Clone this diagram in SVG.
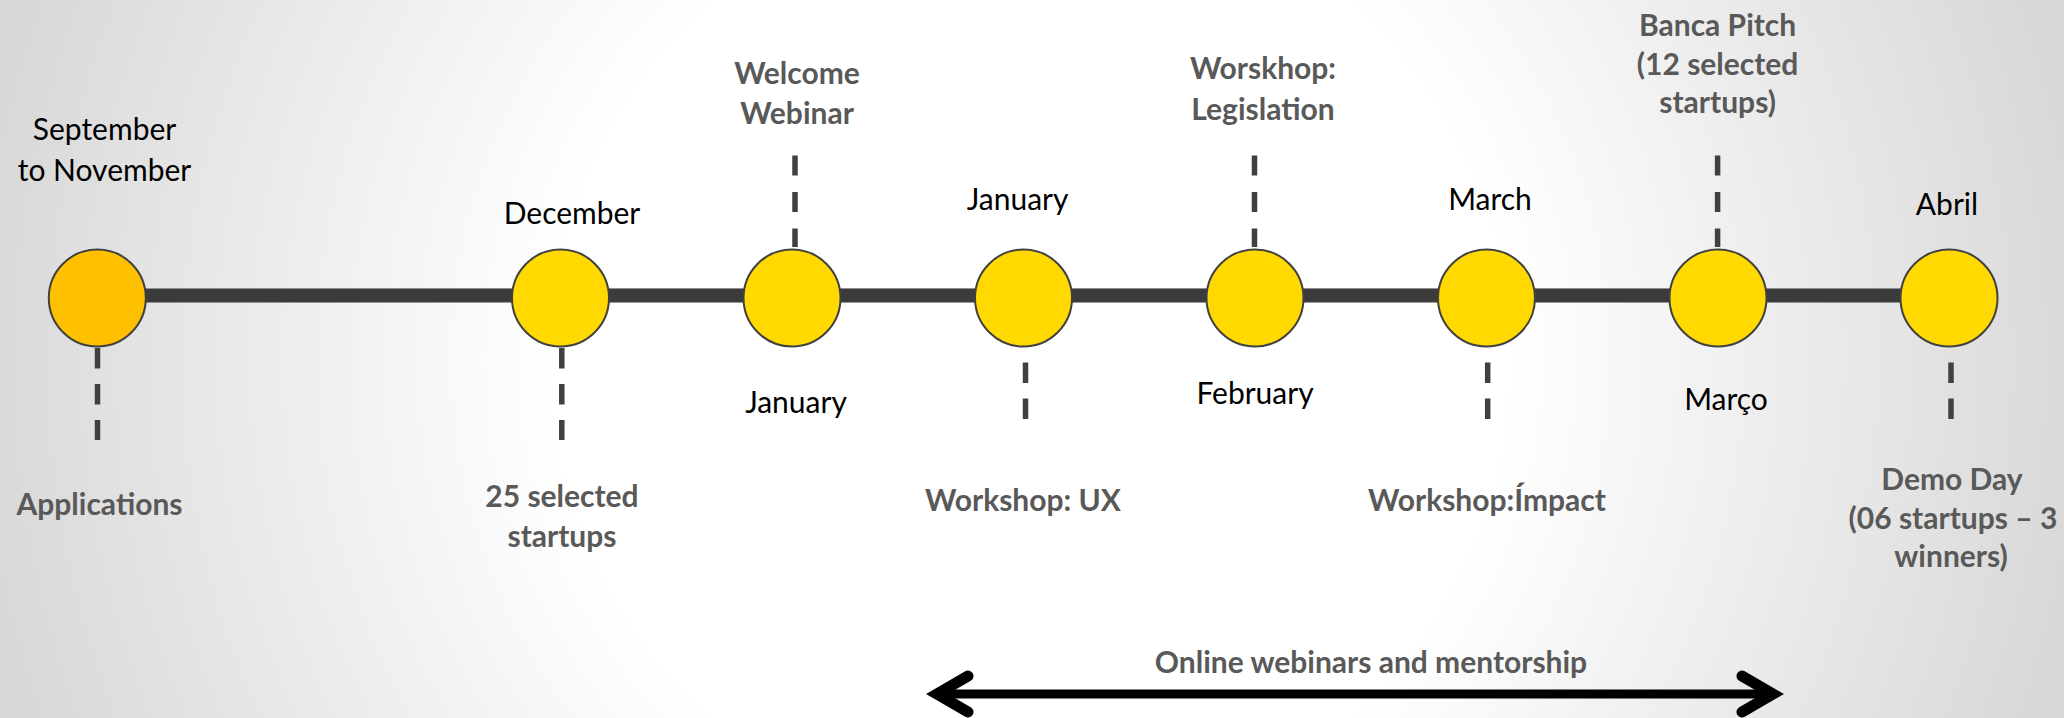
<svg xmlns="http://www.w3.org/2000/svg" width="2064" height="718" viewBox="0 0 2064 718">
  <defs>
    <radialGradient id="bg" gradientUnits="userSpaceOnUse" cx="1030" cy="360" r="1060" fx="1030" fy="360">
      <stop offset="0" stop-color="#ffffff"/>
      <stop offset="0.45" stop-color="#ffffff"/>
      <stop offset="1" stop-color="#d8d8d8"/>
    </radialGradient>
  </defs>
  <style>
    .dot { fill: #FFD900; stroke: #404040; stroke-width: 2; }
    .dot0 { fill: #FFC000; stroke: #404040; stroke-width: 2; }
    .dash { stroke: #404040; stroke-width: 5.5; fill: none; }
    .up { stroke-dasharray: 20 16.5; }
    .down { stroke-dasharray: 20.5 15.5; }
    .month { font-family: Lato, "Liberation Sans", sans-serif; font-size: 30px; fill: #000000; text-anchor: middle; }
    .event { font-family: Lato, "Liberation Sans", sans-serif; font-size: 30px; font-weight: bold; fill: #595959; text-anchor: middle; }
    .arrow { stroke: #000000; fill: none; stroke-width: 11; stroke-linecap: round; stroke-linejoin: miter; stroke-miterlimit: 10; }
  </style>

  <rect x="0" y="0" width="2064" height="718" fill="url(#bg)"/>

  <g id="connectors">
    <rect x="97" y="288.5" width="1852" height="14" fill="#3b3b3b"/>
    <line x1="97" y1="288.5" x2="1949" y2="288.5" stroke="#8f8f8f" stroke-width="1"/>
    <line class="dash down" x1="97.5" y1="348" x2="97.5" y2="440"/>
    <line class="dash down" x1="561.8" y1="348" x2="561.8" y2="440"/>
    <line class="dash up" x1="795" y1="155.5" x2="795" y2="247"/>
    <line class="dash down" x1="1025.5" y1="362.5" x2="1025.5" y2="419.5"/>
    <line class="dash up" x1="1254.5" y1="155.5" x2="1254.5" y2="247"/>
    <line class="dash down" x1="1487.7" y1="362.5" x2="1487.7" y2="419.5"/>
    <line class="dash up" x1="1717.6" y1="155.5" x2="1717.6" y2="247"/>
    <line class="dash down" x1="1951" y1="362.5" x2="1951" y2="419.5"/>
    <g id="mentorship-arrow">
      <line x1="937" y1="694" x2="1772" y2="694" stroke="#000000" stroke-width="9"/>
      <path class="arrow" d="M968,676 L937,694 L968,712"/>
      <path class="arrow" d="M1742,676 L1773,694 L1742,712"/>
    </g>
  </g>

  <g id="node-sep-nov">
    <circle class="dot0" cx="97.3" cy="298" r="48.5"/>
    <text class="month" x="104.5" y="139.5">September</text>
    <text class="month" x="104.5" y="180.5">to November</text>
    <text class="event" x="99.5" y="515">Applications</text>
  </g>

  <g id="node-december">
    <circle class="dot" cx="560.5" cy="298" r="48.5"/>
    <text class="month" x="572" y="224">December</text>
    <text class="event" x="562" y="507">25 selected</text>
    <text class="event" x="562" y="547">startups</text>
  </g>

  <g id="node-january-welcome">
    <circle class="dot" cx="792" cy="298" r="48.5"/>
    <text class="event" x="797" y="84">Welcome</text>
    <text class="event" x="797" y="124">Webinar</text>
    <text class="month" x="796" y="413">January</text>
  </g>

  <g id="node-january-ux">
    <circle class="dot" cx="1023.5" cy="298" r="48.5"/>
    <text class="month" x="1017.6" y="210">January</text>
    <text class="event" x="1023" y="510.5">Workshop: UX</text>
  </g>

  <g id="node-february">
    <circle class="dot" cx="1255" cy="298" r="48.5"/>
    <text class="event" x="1263" y="79">Worskhop:</text>
    <text class="event" x="1263" y="120">Legislation</text>
    <text class="month" x="1255" y="404">February</text>
  </g>

  <g id="node-march">
    <circle class="dot" cx="1486.5" cy="298" r="48.5"/>
    <text class="month" x="1490" y="210">March</text>
    <text class="event" x="1487" y="510.5">Workshop:Ímpact</text>
  </g>

  <g id="node-marco">
    <circle class="dot" cx="1718" cy="298" r="48.5"/>
    <text class="event" x="1717.6" y="36">Banca Pitch</text>
    <text class="event" x="1717.6" y="75">(12 selected</text>
    <text class="event" x="1717.6" y="113">startups)</text>
    <text class="month" x="1726" y="410">Março</text>
  </g>

  <g id="node-abril">
    <circle class="dot" cx="1949" cy="298" r="48.5"/>
    <text class="month" x="1947" y="215">Abril</text>
    <text class="event" x="1952" y="490">Demo Day</text>
    <text class="event" x="1953" y="529">(06 startups – 3</text>
    <text class="event" x="1951" y="567">winners)</text>
  </g>

  <text class="event" x="1371" y="673">Online webinars and mentorship</text>
</svg>
